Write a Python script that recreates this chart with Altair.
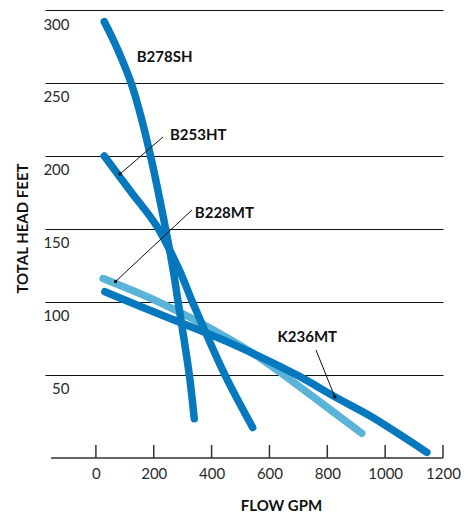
import altair as alt
import pandas as pd

# ---- pump curves (flow GPM, total head feet) ----
b278sh_flow = [29, 66, 118, 149, 190, 239, 267, 285, 323, 340]
b278sh_head = [292, 277, 252, 232, 199, 152, 122, 99, 50, 20]

b253ht_flow = [29, 123, 210, 288, 336, 446, 542]
b253ht_head = [200, 175, 152, 122, 99, 50, 14]

b228mt_flow = [25, 227, 458, 579, 751, 919]
b228mt_head = [116, 99, 75, 60, 35, 10]

k236mt_flow = [31, 227, 463, 694, 826, 947, 1144]
k236mt_head = [107, 91, 72, 50, 35, 22, -3]

x_ticks = [0, 200, 400, 600, 800, 1000, 1200]
y_ticks = [50, 100, 150, 200, 250, 300]

# ---- labels and leader lines ----
label_names = ["B278SH", "B253HT", "B228MT", "K236MT"]
label_flow = [141, 256, 342, 628]
label_head = [268, 214.5, 161, 76]

leader_names = ["B253HT", "B228MT", "K236MT"]
leader_start_flow = [232, 332, 761]
leader_start_head = [213, 163, 67]
leader_end_flow = [83, 68, 826]
leader_end_head = [187.6, 114, 35]

DARK = "#0678be"
LIGHT = "#5ab4d8"
X_MIN, X_MAX = -176, 1200
Y_MIN, Y_MAX = -6.9, 300
AXIS_START = -155
TICK_LEN = 8.9

rows = []
for name, fl, hd in [("B278SH", b278sh_flow, b278sh_head),
                     ("B253HT", b253ht_flow, b253ht_head),
                     ("B228MT", b228mt_flow, b228mt_head),
                     ("K236MT", k236mt_flow, k236mt_head)]:
    for i, (f, h) in enumerate(zip(fl, hd)):
        rows.append({"series": name, "flow": f, "head": h, "order": i})
curves = pd.DataFrame(rows)

labels_df = pd.DataFrame({"name": label_names, "flow": label_flow, "head": label_head})
leaders_df = pd.DataFrame({"name": leader_names, "flow": leader_start_flow, "head": leader_start_head,
                           "flow2": leader_end_flow, "head2": leader_end_head})
dots_df = pd.DataFrame({"name": leader_names, "flow": leader_end_flow, "head": leader_end_head})
ticks_df = pd.DataFrame({"flow": x_ticks, "head": [Y_MIN] * len(x_ticks),
                         "head2": [Y_MIN + TICK_LEN] * len(x_ticks)})
axisline_df = pd.DataFrame({"flow": [AXIS_START], "flow2": [X_MAX], "head": [Y_MIN]})

xscale = alt.Scale(domain=[X_MIN, X_MAX], nice=False, zero=False)
yscale = alt.Scale(domain=[Y_MIN, Y_MAX], nice=False, zero=False)

x_axis = alt.Axis(values=x_ticks, format="d", grid=False, domain=False, ticks=False, tickSize=0,
                  labelPadding=15, labelBaseline="middle", labelFont="Lato", labelFontSize=15,
                  labelFontWeight="normal", labelColor="#2a2a2a", labelFlush=False,
                  labelOverlap=False,
                  title="FLOW GPM", titleFont="Lato", titleFontSize=15, titleFontWeight="bold",
                  titleColor="#111", titleX=236, titleY=47, titleAlign="center",
                  titleBaseline="middle")
y_axis = alt.Axis(values=y_ticks, format="d", grid=True, gridColor="#111", gridWidth=1,
                  domain=False, ticks=False, tickSize=0, labelAlign="right", labelPadding=-24,
                  labelBaseline="middle", labelOffset=14, labelFont="Lato", labelFontSize=15,
                  labelFontWeight="normal", labelColor="#2a2a2a", labelFlush=False,
                  labelOverlap=False,
                  title="TOTAL HEAD FEET", titleFont="Lato", titleFontSize=15,
                  titleFontWeight="bold", titleColor="#111", titleX=-23, titleY=218,
                  titleAngle=270, titleAlign="center", titleBaseline="middle")

X = alt.X("flow:Q", scale=xscale, axis=x_axis)
Y = alt.Y("head:Q", scale=yscale, axis=y_axis)

axis_line = alt.Chart(axisline_df).mark_rule(color="#333", strokeWidth=1.5).encode(
    x=X, x2="flow2:Q", y=Y)
tick_marks = alt.Chart(ticks_df).mark_rule(color="#333", strokeWidth=1.5).encode(
    x=X, y=Y, y2="head2:Q")

light = alt.Chart(curves[curves.series == "B228MT"]).mark_line(
    color=LIGHT, strokeWidth=7.5, strokeCap="round", strokeJoin="round",
    interpolate="catmull-rom"
).encode(x=X, y=Y, detail="series:N", order="order:Q")
dark = alt.Chart(curves[curves.series != "B228MT"]).mark_line(
    color=DARK, strokeWidth=7.5, strokeCap="round", strokeJoin="round",
    interpolate="catmull-rom"
).encode(x=X, y=Y, detail="series:N", order="order:Q")

leaders = alt.Chart(leaders_df).mark_rule(color="#111", strokeWidth=1).encode(
    x=X, y=Y, x2="flow2:Q", y2="head2:Q")
dots = alt.Chart(dots_df).mark_circle(color="#111", size=12, opacity=1).encode(x=X, y=Y)
texts = alt.Chart(labels_df).mark_text(
    align="left", baseline="middle", font="Lato", fontSize=15, fontWeight="bold", color="#111"
).encode(x=X, y=Y, text="name:N")

chart = alt.layer(axis_line, tick_marks, light, dark, leaders, dots, texts).properties(
    width=398, height=448,
    autosize=alt.AutoSizeParams(type="none"),
    padding={"left": 37, "top": 2, "right": 22, "bottom": 56},
).configure_view(stroke=None)

chart.save("out.html", embed_options={"renderer": "svg", "actions": False})
